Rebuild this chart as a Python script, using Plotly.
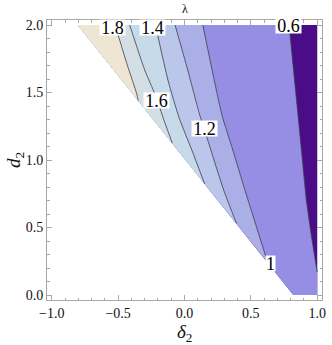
import plotly.graph_objects as go

# ---- data (δ2, d2 coordinates of contour lines) ----
region_delta = [-0.804, 1.0, 1.0, 0.82]
region_d = [2.0, 2.0, 0.0, 0.0]

c06_delta = [0.788, 0.814, 0.844, 0.881, 0.918, 0.955, 1.0]
c06_d = [2.0, 1.741, 1.444, 1.074, 0.704, 0.444, 0.17]

c10_delta = [0.138, 0.208, 0.282, 0.364, 0.455, 0.545, 0.625]
c10_d = [2.0, 1.667, 1.333, 1.074, 0.778, 0.496, 0.245]

c12_delta = [-0.071, 0.024, 0.115, 0.163, 0.295, 0.392]
c12_d = [2.0, 1.667, 1.333, 1.185, 0.778, 0.53]

c14_delta = [-0.219, -0.125, -0.040, 0.055, 0.152]
c14_d = [2.0, 1.593, 1.311, 1.074, 0.822]

c16_delta = [-0.413, -0.30, -0.22, -0.155, -0.092]
c16_d = [2.0, 1.667, 1.481, 1.296, 1.124]

c18_delta = [-0.522, -0.50, -0.43, -0.36, -0.349]
c18_d = [2.0, 1.926, 1.70, 1.49, 1.44]

label_text = ["1.8", "1.4", "1.6", "1.2", "1", "0.6"]
label_delta = [-0.544, -0.243, -0.210, 0.150, 0.649, 0.782]
label_d = [1.979, 1.979, 1.439, 1.235, 0.231, 1.994]

band_colors = ["#4b0d87", "#968ee5", "#abafe8", "#bac6ea", "#c6dae9", "#d4dfe3", "#efe5d3"]

SERIF = '"Liberation Serif", "Times New Roman", "DejaVu Serif", serif'
fig = go.Figure()

# full domain (lowest band)
fig.add_trace(go.Scatter(x=region_delta, y=region_d, fill="toself", mode="lines",
                         line=dict(width=0), fillcolor=band_colors[0],
                         hoverinfo="skip", showlegend=False))

# region left of 0.6 contour
x06 = c06_delta + [region_delta[2], region_delta[3], region_delta[0]]
y06 = c06_d + [region_d[2], region_d[3], region_d[0]]
fig.add_trace(go.Scatter(x=x06, y=y06, fill="toself", mode="lines",
                         line=dict(width=0), fillcolor=band_colors[1],
                         hoverinfo="skip", showlegend=False))

lines = [(c10_delta, c10_d), (c12_delta, c12_d), (c14_delta, c14_d),
         (c16_delta, c16_d), (c18_delta, c18_d)]
for i, (lx, ly) in enumerate(lines):
    px = lx + [region_delta[0]]
    py = ly + [region_d[0]]
    fig.add_trace(go.Scatter(x=px, y=py, fill="toself", mode="lines",
                             line=dict(width=0), fillcolor=band_colors[i + 2],
                             hoverinfo="skip", showlegend=False))

# contour lines
for lx, ly in [(c06_delta, c06_d)] + lines:
    fig.add_trace(go.Scatter(x=lx, y=ly, mode="lines",
                             line=dict(color="rgba(60,60,75,0.8)", width=1, shape="spline", smoothing=0.6),
                             hoverinfo="skip", showlegend=False))

for t, lx, ly in zip(label_text, label_delta, label_d):
    fig.add_annotation(x=lx, y=ly, text=t, showarrow=False, bgcolor="white",
                       font=dict(family=SERIF, size=18, color="black"),
                       width=len(t) * 8 + 1, height=15, borderpad=0)

# titles
fig.add_annotation(xref="paper", yref="paper", x=0.5, y=1, yanchor="bottom", yshift=2,
                   text="λ", showarrow=False, font=dict(family=SERIF, size=12, color="#111"))
fig.add_annotation(xref="paper", yref="paper", x=0.5, y=0, yanchor="top", yshift=-19,
                   text="<i>δ</i><sub>2</sub>", showarrow=False,
                   font=dict(family=SERIF, size=19, color="#111"))
fig.add_annotation(xref="paper", yref="paper", x=0, y=0.5, xanchor="center", xshift=-32,
                   text="<i>d</i><sub>2</sub>", showarrow=False, textangle=-90,
                   font=dict(family=SERIF, size=19, color="#111"))

axis_common = dict(showgrid=False, zeroline=False, showline=True, linecolor="#a8a8a8",
                   linewidth=1, mirror="ticks", ticks="inside", ticklen=5, tickcolor="#a8a8a8",
                   tickwidth=1, dtick=0.5, tick0=0, tickformat=".1f",
                   tickfont=dict(family=SERIF, size=14, color="#111"),
                   minor=dict(dtick=0.1, tick0=0, ticks="inside", ticklen=2.5,
                              tickcolor="#a8a8a8", tickwidth=1, showgrid=False))

fig.update_layout(width=332, height=345, autosize=False,
                  margin=dict(l=47, r=6, t=20, b=45),
                  paper_bgcolor="white", plot_bgcolor="white",
                  xaxis=dict(range=[-1.036, 1.036], **axis_common),
                  yaxis=dict(range=[-0.037, 2.037], **axis_common))

fig.write_html("out.html", config={"displayModeBar": False},
               post_script="document.body.style.margin='0';document.body.style.overflow='hidden';")
